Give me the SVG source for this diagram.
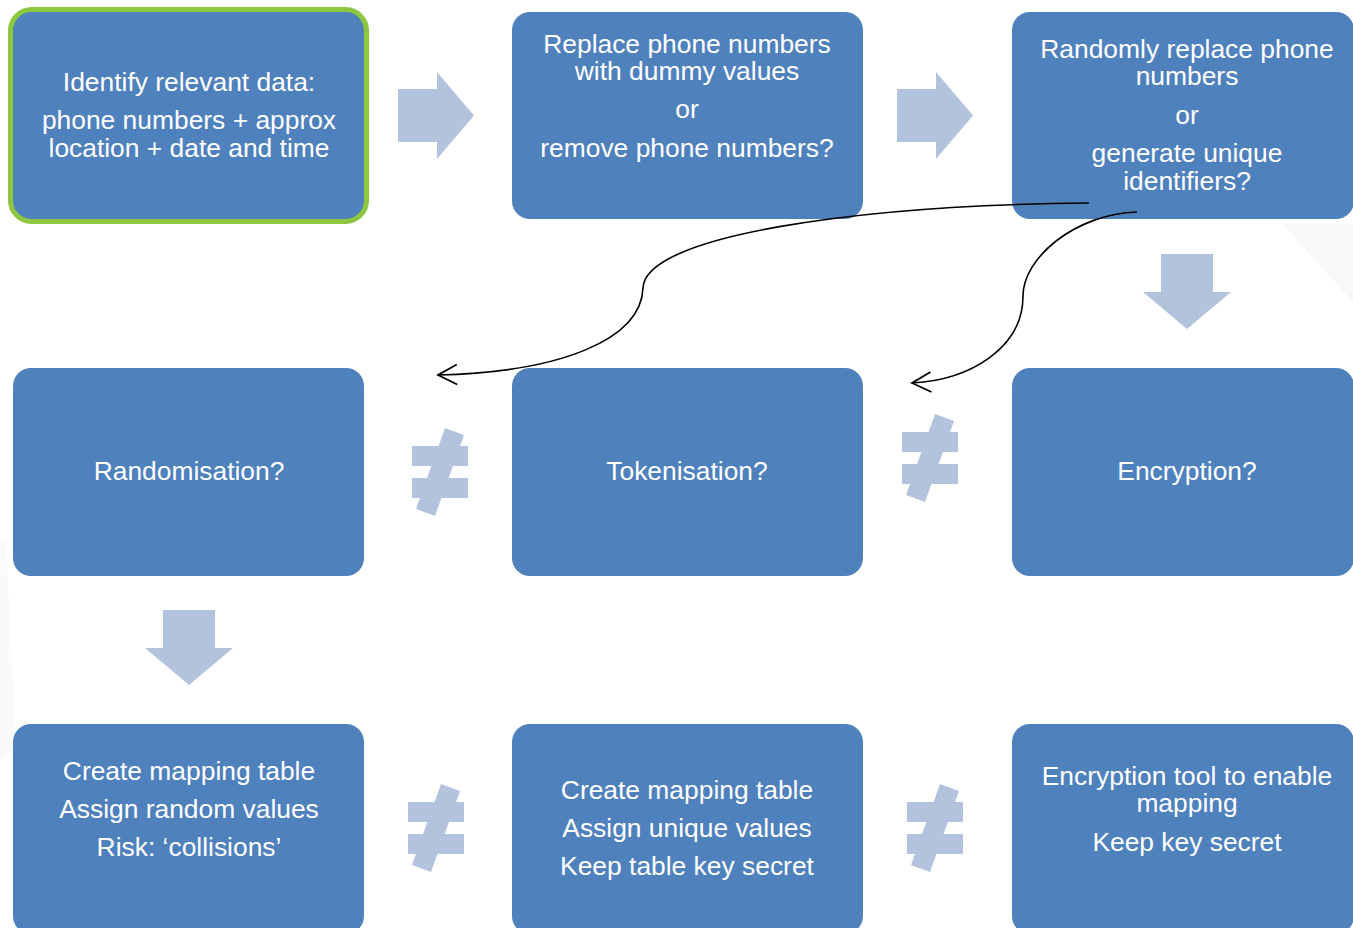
<svg xmlns="http://www.w3.org/2000/svg" width="1353" height="928" viewBox="0 0 1353 928">
  <defs>
    <style>
      .box { fill: #4f81bd; }
      .start { fill: #4f81bd; stroke: #8dc63f; stroke-width: 5; }
      .lbl { font-family: "Liberation Sans", Arial, sans-serif; font-size: 26.4px; fill: #ffffff; text-anchor: middle; }
      .blk { fill: #b3c3de; }
      .conn { fill: none; stroke: #000000; stroke-width: 1.6; }
    </style>
    <marker id="open-head" markerUnits="userSpaceOnUse" markerWidth="24" markerHeight="24" viewBox="-22 -12 24 24" refX="0" refY="0" orient="auto">
      <path d="M-19,-10 L0,0 L-19,10" fill="none" stroke="#000000" stroke-width="1.8"/>
    </marker>
    <!-- "not equal" glyph built from two bars and a slanted stroke -->
    <g id="neq">
      <rect class="blk" x="-28" y="-26" width="56" height="20"/>
      <rect class="blk" x="-28" y="6" width="56" height="20"/>
      <polygon class="blk" points="5,-44 24,-37 -5,44 -24,37"/>
    </g>
    <polygon id="arrow-right" class="blk" points="0,17 39,17 39,0 76,43.5 39,87 39,70 0,70"/>
    <polygon id="arrow-down" class="blk" points="18,0 70,0 70,38 88,38 44,75 0,38 18,38"/>
  </defs>

  <rect width="1353" height="928" fill="#ffffff"/>
  <!-- faint background wedges -->
  <polygon points="1283,224 1353,224 1353,302" fill="#f8f8f8"/>
  <polygon points="0,540 6,540 16,745 0,760" fill="#fafafa"/>

  <!-- block arrows -->
  <g id="flow-arrows">
    <use href="#arrow-right" x="398" y="72"/>
    <use href="#arrow-right" x="897" y="72"/>
    <use href="#arrow-down" x="1143" y="254"/>
    <use href="#arrow-down" x="145" y="610"/>
  </g>

  <!-- not-equal signs between alternatives -->
  <g id="neq-signs">
    <use href="#neq" x="440" y="472"/>
    <use href="#neq" x="930" y="458"/>
    <use href="#neq" x="436" y="828"/>
    <use href="#neq" x="935" y="828"/>
  </g>

  <g id="n-identify">
    <rect class="start" x="10.5" y="9.5" width="356" height="212" rx="21"/>
    <text class="lbl" x="189" y="91">Identify relevant data:</text>
    <text class="lbl" x="189" y="129">phone numbers + approx</text>
    <text class="lbl" x="189" y="157">location + date and time</text>
  </g>

  <g id="n-replace">
    <rect class="box" x="512" y="12" width="351" height="207" rx="18"/>
    <text class="lbl" x="687" y="53">Replace phone numbers</text>
    <text class="lbl" x="687" y="80">with dummy values</text>
    <text class="lbl" x="687" y="118">or</text>
    <text class="lbl" x="687" y="157">remove phone numbers?</text>
  </g>

  <g id="n-random-replace">
    <rect class="box" x="1012" y="12" width="342" height="207" rx="18"/>
    <text class="lbl" x="1187" y="58">Randomly replace phone</text>
    <text class="lbl" x="1187" y="85">numbers</text>
    <text class="lbl" x="1187" y="124">or</text>
    <text class="lbl" x="1187" y="162">generate unique</text>
    <text class="lbl" x="1187" y="190">identifiers?</text>
  </g>

  <g id="n-randomisation">
    <rect class="box" x="13" y="368" width="351" height="208" rx="18"/>
    <text class="lbl" x="189" y="480">Randomisation?</text>
  </g>

  <g id="n-tokenisation">
    <rect class="box" x="512" y="368" width="351" height="208" rx="18"/>
    <text class="lbl" x="687" y="480">Tokenisation?</text>
  </g>

  <g id="n-encryption">
    <rect class="box" x="1012" y="368" width="342" height="208" rx="18"/>
    <text class="lbl" x="1187" y="480">Encryption?</text>
  </g>

  <g id="n-random-table">
    <rect class="box" x="13" y="724" width="351" height="210" rx="18"/>
    <text class="lbl" x="189" y="780">Create mapping table</text>
    <text class="lbl" x="189" y="818">Assign random values</text>
    <text class="lbl" x="189" y="856">Risk: ‘collisions’</text>
  </g>

  <g id="n-token-table">
    <rect class="box" x="512" y="724" width="351" height="210" rx="18"/>
    <text class="lbl" x="687" y="799">Create mapping table</text>
    <text class="lbl" x="687" y="837">Assign unique values</text>
    <text class="lbl" x="687" y="875">Keep table key secret</text>
  </g>

  <g id="n-encrypt-tool">
    <rect class="box" x="1012" y="724" width="342" height="210" rx="18"/>
    <text class="lbl" x="1187" y="785">Encryption tool to enable</text>
    <text class="lbl" x="1187" y="812">mapping</text>
    <text class="lbl" x="1187" y="851">Keep key secret</text>
  </g>

  <!-- curved connectors from the identifier question -->
  <g id="connectors">
    <path class="conn" d="M1089,203 C860,205 645,235 643,288 C641,340 560,372 438,375" marker-end="url(#open-head)"/>
    <path class="conn" d="M1137,212 C1075,214 1023,258 1023,296 C1023,348 970,380 912,383" marker-end="url(#open-head)"/>
  </g>
</svg>
